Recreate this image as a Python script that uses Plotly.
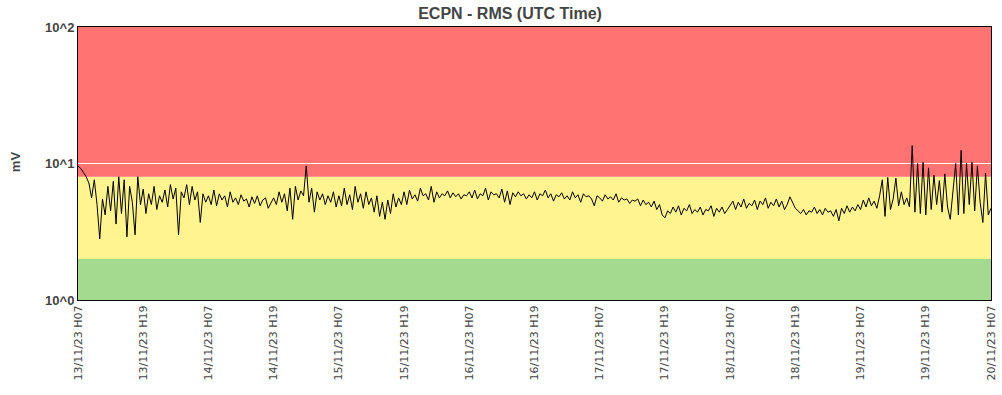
import plotly.graph_objects as go
import pandas as pd

# ---- data (RMS in mV, 30-minute samples from 13/11/23 07:00 to 20/11/23 07:00) ----
seg01 = [9.6, 9.2, 8.6, 8.0, 7.2, 5.6, 7.6, 5.0, 2.8, 5.5, 4.2, 6.8, 4.5, 7.4, 3.6, 8.0, 4.3, 7.6, 2.9, 6.8, 5.2, 3.0, 8.0, 5.0]
seg02 = [6.5, 4.3, 6.0, 5.0, 6.8, 4.6, 5.8, 5.2, 6.4, 4.8, 7.0, 5.5, 6.6, 3.0, 6.2, 5.6, 7.0, 5.0, 6.8, 5.4, 6.2, 3.7, 6.0, 5.2]
seg03 = [5.8, 5.0, 6.4, 4.9, 6.0, 5.4, 5.8, 4.8, 6.2, 5.2, 5.6, 5.0, 5.9, 5.3, 5.5, 4.8, 5.7, 5.1, 5.8, 4.9, 5.4, 5.6, 4.7, 5.2]
seg04 = [5.6, 5.0, 6.2, 5.2, 6.0, 4.5, 6.6, 3.9, 6.8, 5.4, 6.3, 5.8, 9.6, 5.2, 6.6, 4.4, 6.2, 5.4, 6.0, 5.0, 5.8, 5.2, 6.2, 4.8]
seg05 = [5.8, 4.9, 6.6, 5.0, 5.9, 4.6, 6.8, 5.2, 6.0, 4.7, 6.2, 5.0, 5.6, 4.4, 5.8, 4.1, 5.2, 3.9, 5.4, 4.3, 6.0, 4.8, 5.6, 5.0]
seg06 = [6.2, 5.0, 6.4, 5.5, 5.9, 5.3, 6.6, 5.8, 6.0, 5.4, 6.8, 5.2, 6.2, 5.6, 6.0, 5.8, 6.3, 5.6, 6.1, 5.7, 6.0, 5.5, 5.9, 5.8]
seg07 = [6.2, 5.6, 6.4, 5.5, 6.0, 5.8, 6.6, 5.4, 6.2, 5.9, 6.0, 5.6, 6.5, 5.2, 6.3, 5.0, 6.1, 5.7, 6.2, 5.8, 6.0, 5.5, 5.9, 5.6]
seg08 = [6.2, 5.4, 6.0, 5.8, 6.4, 5.6, 6.0, 5.3, 5.9, 5.7, 6.1, 5.5, 5.8, 5.4, 6.2, 5.6, 5.9, 5.2, 6.0, 5.7, 5.8, 5.5, 4.9, 5.8]
seg09 = [5.6, 5.3, 5.9, 5.5, 5.7, 5.4, 6.0, 5.2, 5.6, 5.4, 5.5, 5.1, 5.4, 5.3, 5.5, 4.9, 5.4, 5.0, 5.2, 4.8, 5.3, 4.6, 5.0, 4.2]
seg10 = [4.0, 4.5, 4.3, 4.8, 4.4, 4.9, 4.2, 4.7, 4.5, 5.0, 4.3, 4.6, 4.4, 4.8, 4.2, 4.6, 4.5, 4.9, 4.1, 4.7, 4.4, 4.8, 4.3, 4.6]
seg11 = [4.9, 5.3, 4.6, 5.2, 4.8, 5.5, 4.7, 5.1, 4.9, 5.4, 4.6, 5.3, 5.0, 5.6, 4.7, 5.2, 4.9, 5.5, 4.8, 5.3, 4.6, 5.0, 5.7, 5.2]
seg12 = [4.7, 4.5, 4.3, 4.6, 4.2, 4.5, 4.4, 4.8, 4.3, 4.6, 4.2, 4.7, 4.4, 4.5, 4.1, 4.6, 3.8, 4.7, 4.3, 4.9, 4.4, 4.8, 4.5, 5.0]
seg13 = [4.6, 5.4, 4.8, 5.6, 4.9, 5.3, 4.7, 5.8, 7.6, 4.1, 7.9, 4.6, 5.5, 7.8, 4.9, 6.2, 5.0, 5.6, 4.8, 13.5, 4.4, 10.0, 4.3, 10.2]
seg14 = [4.2, 9.3, 4.6, 8.2, 5.0, 7.5, 4.4, 8.4, 4.8, 3.9, 6.0, 10.0, 4.2, 12.5, 4.3, 10.0, 5.0, 10.2, 4.5, 9.6, 5.2, 3.7, 8.5, 4.2]
last_value = [4.7]

rms_values = (seg01 + seg02 + seg03 + seg04 + seg05 + seg06 + seg07 + seg08 +
              seg09 + seg10 + seg11 + seg12 + seg13 + seg14 + last_value)
start_time = "2023-11-13 07:00"
end_time = "2023-11-20 07:00"
times = pd.date_range(start_time, periods=len(rms_values), freq="30min")

tick_times = pd.date_range(start_time, end_time, freq="12h")
tick_labels = [t.strftime("%d/%m/%y H%H") for t in tick_times]

# threshold bands (mV)
band_green = [1, 2]
band_yellow = [2, 8]
band_red = [8, 100]

fig = go.Figure()

for (lo, hi), col in [(band_green, "#a3da8f"), (band_yellow, "#fff48f"), (band_red, "#ff7373")]:
    fig.add_shape(type="rect", xref="paper", yref="y", x0=0, x1=1, y0=lo, y1=hi,
                  fillcolor=col, line=dict(width=0), layer="below")

fig.add_trace(go.Scatter(x=times, y=rms_values, mode="lines",
                         line=dict(color="black", width=1), hoverinfo="x+y",
                         showlegend=False))

fig.update_layout(
    width=1002, height=395,
    margin=dict(l=78, r=11, t=27, b=95, autoexpand=False),
    paper_bgcolor="white", plot_bgcolor="rgba(0,0,0,0)",
    title=dict(text="<b>ECPN - RMS (UTC Time)</b>", x=0.509, xanchor="center",
               y=0.966, yanchor="middle",
               font=dict(family="Liberation Sans, Arial", size=16, color="#444444")),
    xaxis=dict(type="date", range=[start_time, end_time], automargin=False,
               tickvals=tick_times, ticktext=tick_labels, tickangle=-90,
               tickfont=dict(family="DejaVu Sans", size=11, color="#444444"),
               showgrid=False, zeroline=False, ticks="",
               showline=True, linecolor="black", linewidth=1, mirror=True),
    yaxis=dict(type="log", range=[0, 2], tickvals=[1, 10, 100], automargin=False,
               ticktext=["<b>10^0</b>", "<b>10^1</b>", "<b>10^2</b>"],
               tickfont=dict(family="Liberation Sans, Arial", size=13, color="#444444"),
               showgrid=True, gridcolor="white", gridwidth=1, zeroline=False, ticks="",
               showline=True, linecolor="black", linewidth=1, mirror=True),
    annotations=[dict(text="<b>mV</b>", xref="paper", yref="paper", x=-0.069, y=0.505,
                      xanchor="center", yanchor="middle", textangle=-90, showarrow=False,
                      font=dict(family="Liberation Sans, Arial", size=13, color="#444444"))],
)

# remove the default 8px page margin so the figure sits at the window's top-left corner
fig.write_html("out.html", config={"displayModeBar": False},
               post_script="document.body.style.margin='0';document.body.style.overflow='hidden';")
